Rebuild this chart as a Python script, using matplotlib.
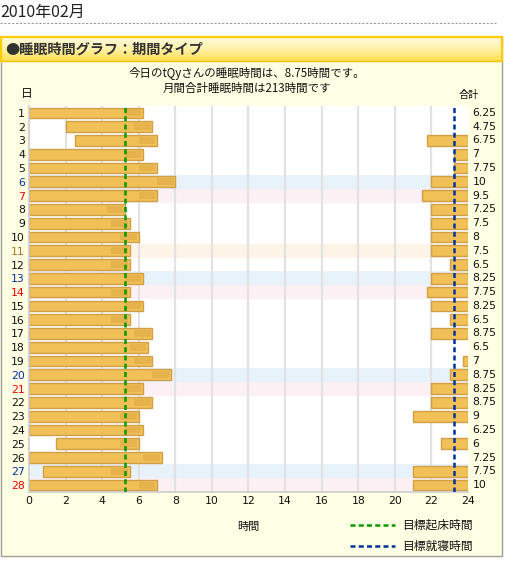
import matplotlib
matplotlib.use("Agg")
import matplotlib.pyplot as plt
import numpy as np
from matplotlib.patches import Rectangle
from matplotlib.colors import LinearSegmentedColormap

plt.rcParams['font.family'] = ['Noto Sans CJK JP', 'DejaVu Sans']

# ---------------- data ----------------
days = list(range(1, 29))
# morning segment (start, end) in hours
morning_start = [0, 2, 2.5, 0, 0, 0, 0, 0, 0, 0, 0, 0, 0, 0,
                 0, 0, 0, 0, 0, 0, 0, 0, 0, 0, 1.5, 0, 0.75, 0]
morning_end = [6.25, 6.75, 7, 6.25, 7, 8, 7, 5.25, 5.5, 6, 5.5, 5.5, 6.25, 5.5,
               6.25, 5.5, 6.75, 6.5, 6.75, 7.75, 6.25, 6.75, 6, 6.25, 6, 7.25, 5.5, 7]
# evening segment start (None = no evening bar), ends at 24
evening_start = [None, None, 21.75, 23.25, 23.25, 22, 21.5, 22, 22, 22, 22, 23, 22, 21.75,
                 22, 23, 22, None, 23.75, 23, 22, 22, 21, None, 22.5, None, 21, 21]
totals = ["6.25", "4.75", "6.75", "7", "7.75", "10", "9.5", "7.25", "7.5", "8", "7.5", "6.5",
          "8.25", "7.75", "8.25", "6.5", "8.75", "6.5", "7", "8.75", "8.25", "8.75", "9",
          "6.25", "6", "7.25", "7.75", "10"]
saturdays = [6, 13, 20, 27]
sundays = [7, 14, 21, 28]
holidays = [11]
goal_wake = 5.25
goal_bed = 23.25
xticks = list(range(0, 25, 2))

title_month = "2010年02月"
header = "●睡眠時間グラフ：期間タイプ"
line1 = "今日のtQyさんの睡眠時間は、8.75時間です。"
line2 = "月間合計睡眠時間は213時間です"

NUMFONT = ['DejaVu Sans']

# ---------------- figure ----------------
W, H = 505, 561
fig = plt.figure(figsize=(W / 100, H / 100), dpi=100)
fig.patch.set_facecolor('white')

bg = fig.add_axes([0, 0, 1, 1])
bg.set_xlim(0, W)
bg.set_ylim(H, 0)
bg.axis('off')

# month title and dashed rule
bg.text(0, 12.5, title_month, fontsize=11.5, va='center', ha='left', color='#222222')
bg.plot([0, 497], [22.5, 22.5], color='#999999', lw=0.8, ls=(0, (2, 1.5)))

# panel
bg.add_patch(Rectangle((1, 37), 501, 519, facecolor='#ffffe4', edgecolor='#a0a090', lw=1.0))
# header gradient
grad = np.linspace(0, 1, 50).reshape(-1, 1)
cmap = LinearSegmentedColormap.from_list('hdr', ['#fffbe0', '#fff1a8', '#ffe050'])
bg.imshow(grad, extent=(1, 502, 61, 37), cmap=cmap, aspect='auto', zorder=2)
bg.plot([1, 502], [37, 37], color='#ffcc00', lw=1.6, zorder=3)
bg.plot([1, 502], [61, 61], color='#f0c000', lw=1.0, zorder=3)
bg.plot([1, 1], [37, 61], color='#ffcc00', lw=1.6, zorder=3)
bg.plot([502, 502], [37, 61], color='#ffcc00', lw=1.6, zorder=3)
bg.text(5, 49.5, header, fontsize=10.2, fontweight='bold', va='center', ha='left',
        color='#333333', zorder=4)

bg.text(247, 73, line1, fontsize=8.3, ha='center', va='center', color='#111111')
bg.text(247, 88, line2, fontsize=8.3, ha='center', va='center', color='#111111')
bg.text(27, 93, "日", fontsize=8.5, ha='center', va='center', color='#111111')
bg.text(469, 95, "合計", fontsize=7.3, ha='center', va='center', color='#111111')
bg.text(248, 527, "時間", fontsize=8, ha='center', va='center', color='#111111')

# legend
bg.plot([350, 395], [525, 525], color='#009900', lw=1.8, ls=(0, (2, 1.3)))
bg.text(402, 525, "目標起床時間", fontsize=8.5, ha='left', va='center', color='#111111')
bg.plot([350, 395], [546, 546], color='#003399', lw=1.8, ls=(0, (2, 1.3)))
bg.text(402, 546, "目標就寝時間", fontsize=8.5, ha='left', va='center', color='#111111')

# ---------------- chart axes ----------------
x0, x1 = 29, 468
y_top, y_bot = 106, 492
ax = fig.add_axes([x0 / W, 1 - y_bot / H, (x1 - x0) / W, (y_bot - y_top) / H])
ax.set_facecolor('white')
ax.set_xlim(0, 24)
ax.set_ylim(28.5, 0.5)

for d in saturdays:
    ax.axhspan(d - 0.5, d + 0.5, color='#e8f2fb', lw=0, zorder=0)
for d in sundays:
    ax.axhspan(d - 0.5, d + 0.5, color='#fdf0f5', lw=0, zorder=0)
for d in holidays:
    ax.axhspan(d - 0.5, d + 0.5, color='#fdf3e6', lw=0, zorder=0)

for xv in xticks[1:-1]:
    ax.axvline(xv, color='#e2e2e2', lw=1.6, zorder=1)

ms = np.array(morning_start, dtype=float)
me = np.array(morning_end, dtype=float)
ax.barh(days, me - ms, left=ms, height=0.78, color='#f1c056', edgecolor='#d0a048',
        lw=1.0, zorder=2)
ev_days = [d for d, s in zip(days, evening_start) if s is not None]
ev_s = np.array([s for s in evening_start if s is not None], dtype=float)
ax.barh(ev_days, 24 - ev_s, left=ev_s, height=0.78, color='#f1c056', edgecolor='#d0a048',
        lw=1.0, zorder=2)
# subtle darker shading near right end of each bar
ax.barh(days, np.minimum(0.9, me - ms), left=me - np.minimum(0.9, me - ms) - 0.1,
        height=0.5, color='#d09a38', alpha=0.35, lw=0, zorder=2.5)

ax.axvline(goal_wake, color='#009900', lw=1.8, ls=(0, (2, 1.3)), zorder=3)
ax.axvline(goal_bed, color='#003399', lw=1.8, ls=(0, (2, 1.3)), zorder=3)

for s in ['top', 'right']:
    ax.spines[s].set_visible(False)
for s in ['left', 'bottom']:
    ax.spines[s].set_color('#cccccc')
    ax.spines[s].set_linewidth(1.2)

ax.set_xticks(xticks)
ax.set_xticklabels([str(v) for v in xticks], fontsize=7.8, color='#111111', family=NUMFONT)
ax.tick_params(axis='x', length=0, pad=3)
ax.set_yticks(days)
ylabels = ax.set_yticklabels([str(d) for d in days], fontsize=7.8, family=NUMFONT)
for lab, d in zip(ylabels, days):
    if d in saturdays:
        lab.set_color('#003399')
    elif d in sundays:
        lab.set_color('#ee0000')
    elif d in holidays:
        lab.set_color('#aa7722')
    else:
        lab.set_color('#111111')
ax.tick_params(axis='y', length=0, pad=3)

for d, t in zip(days, totals):
    ax.text(24.25, d, t, fontsize=7.8, ha='left', va='center', color='#111111',
            clip_on=False, family=NUMFONT)

fig.savefig("out.png", dpi=100, facecolor=fig.get_facecolor())
